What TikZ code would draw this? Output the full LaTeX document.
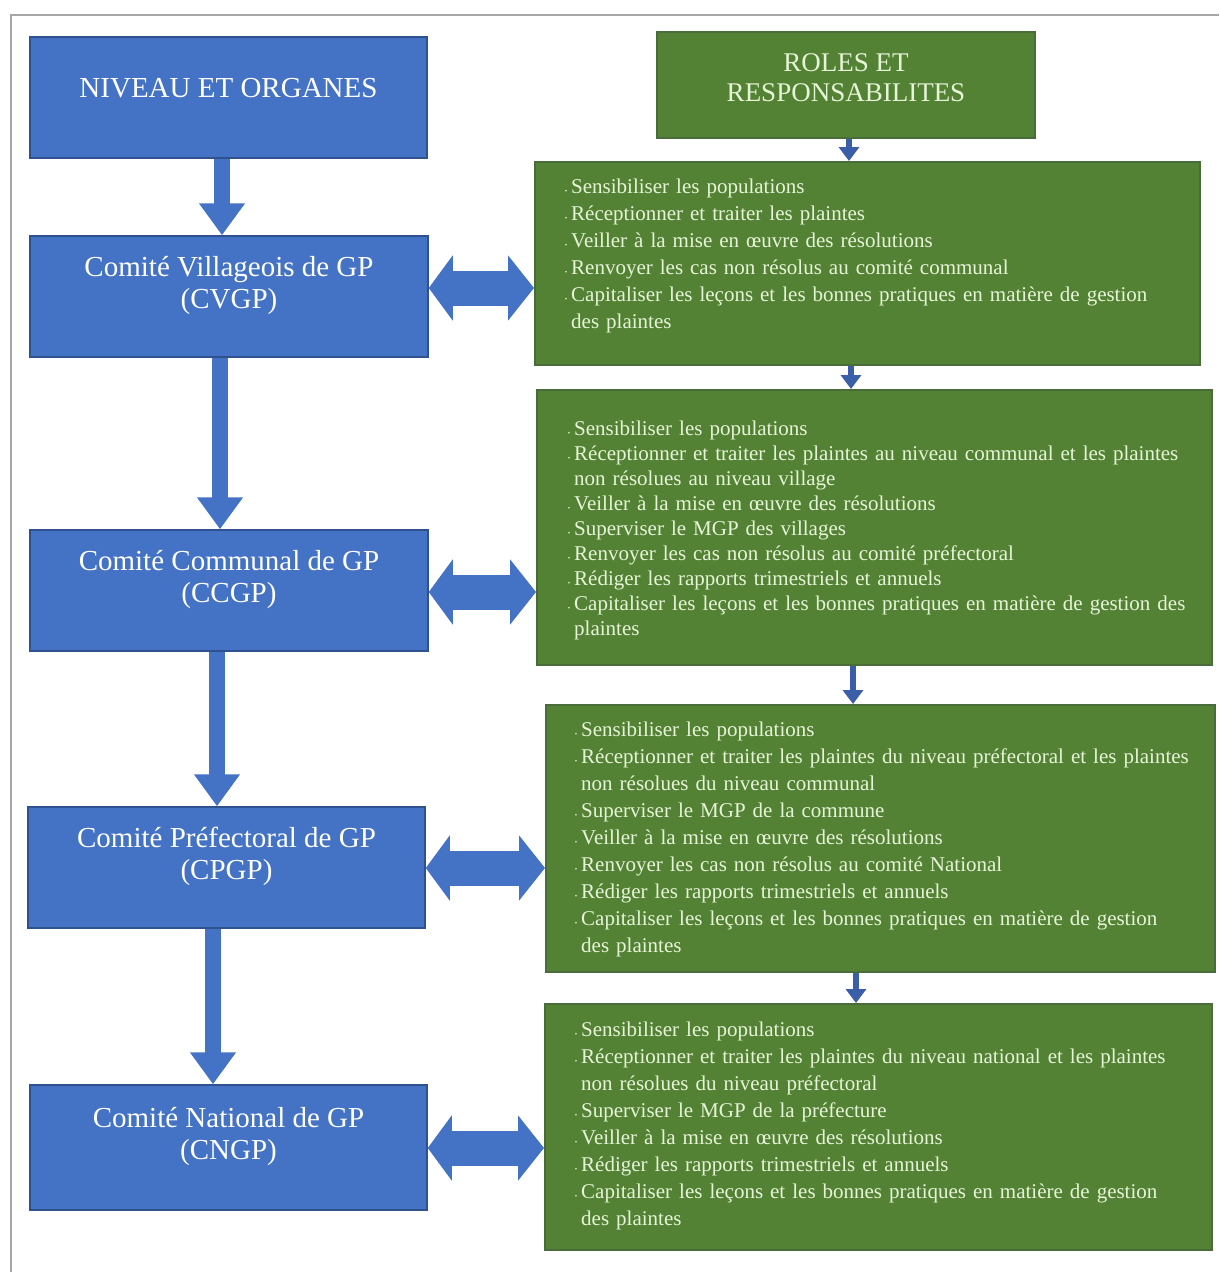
\documentclass[tikz,border=0pt]{standalone}
\usepackage{fontspec}
\setmainfont{Liberation Serif}
\usepackage{enumitem}
\usetikzlibrary{arrows.meta}
\definecolor{bluefill}{HTML}{4472C4}
\definecolor{blueline}{HTML}{2F528F}
\definecolor{greenfill}{HTML}{548235}
\definecolor{greenline}{HTML}{4A6B3A}
\definecolor{greentext}{HTML}{E6F4D8}
\definecolor{darkarrow}{HTML}{3B5EA8}
\begin{document}
\begin{tikzpicture}[x=1pt,y=-1pt,
  bluebox/.style={draw=blueline,line width=1.5pt,fill=bluefill,inner sep=0pt},
  bluetext/.style={text=white,align=center,font=\fontsize{29}{32}\selectfont,yshift=11pt},
  greenbox/.style={draw=greenline,line width=2pt,fill=greenfill,inner sep=0pt},
  greenhdr/.style={draw=greenline,line width=2pt,fill=greenfill,inner sep=0pt},
  hdrtext/.style={text=greentext,align=center,font=\fontsize{27}{30}\selectfont,yshift=7pt},
  roles/.style={anchor=north west,inner sep=0pt,text=greentext,text width=640pt,
    align=left,font=\fontsize{21}{27}\selectfont},
  downarrow/.style={draw=bluefill,line width=16pt,
    -{Triangle[length=32pt,width=44pt]}},
  bothways/.style={draw=bluefill,line width=35pt,
    {Triangle[length=24pt,width=64pt]}-{Triangle[length=26pt,width=64pt]}},
  smallarrow/.style={draw=darkarrow,line width=6pt,
    -{Triangle[length=14pt,width=20pt]}}
]
\useasboundingbox (0,0) rectangle (1219,1275);
\fill[white] (0,0) rectangle (1219,1275);
\draw[gray!70,line width=2pt] (11,1272) -- (11,15) -- (1219,15);

% left column
\node[bluebox,minimum width=397pt,minimum height=121pt,
  label={[bluetext,yshift=-2pt]center:NIVEAU ET ORGANES}] (hdr) at (228.5,97.5) {};
\node[bluebox,minimum width=398pt,minimum height=121pt,
  label={[bluetext]center:{Comité Villageois de GP\\(CVGP)}}] (b1) at (229,296.5) {};
\node[bluebox,minimum width=398pt,minimum height=121pt,
  label={[bluetext]center:{Comité Communal de GP\\(CCGP)}}] (b2) at (229,590.5) {};
\node[bluebox,minimum width=397pt,minimum height=121pt,
  label={[bluetext]center:{Comité Préfectoral de GP\\(CPGP)}}] (b3) at (226.5,867.5) {};
\node[bluebox,minimum width=397pt,minimum height=125pt,
  label={[bluetext]center:{Comité National de GP\\(CNGP)}}] (b4) at (228.5,1147.5) {};

% right column
\node[greenhdr,minimum width=378pt,minimum height=106pt,
  label={[hdrtext]center:{ROLES ET\\RESPONSABILITES}}] (gh) at (846,85) {};
\node[greenbox,minimum width=665pt,minimum height=203pt] (g1) at (867.5,263.5) {};
\node[greenbox,minimum width=675pt,minimum height=275pt] (g2) at (874.5,527.5) {};
\node[greenbox,minimum width=669pt,minimum height=267pt] (g3) at (880.5,838.5) {};
\node[greenbox,minimum width=667pt,minimum height=246pt] (g4) at (878.5,1127) {};

\setlist[itemize]{label={\scriptsize\textbullet},leftmargin=9pt,labelsep=4pt,itemsep=0pt,topsep=0pt,parsep=0pt,partopsep=0pt}

\node[roles] (t1) at (562,166) {\begin{itemize}
\item Sensibiliser les populations
\item Réceptionner et traiter les plaintes
\item Veiller à la mise en œuvre des résolutions
\item Renvoyer les cas non résolus au comité communal
\item Capitaliser les leçons et les bonnes pratiques en matière de gestion\newline des plaintes
\end{itemize}};

\node[roles,font=\fontsize{21}{25}\selectfont] (t2) at (565,410) {\begin{itemize}
\item Sensibiliser les populations
\item Réceptionner et traiter les plaintes au niveau communal et les plaintes\newline non résolues au niveau village
\item Veiller à la mise en œuvre des résolutions
\item Superviser le MGP des villages
\item Renvoyer les cas non résolus au comité préfectoral
\item Rédiger les rapports trimestriels et annuels
\item Capitaliser les leçons et les bonnes pratiques en matière de gestion des\newline plaintes
\end{itemize}};

\node[roles] (t3) at (572,709) {\begin{itemize}
\item Sensibiliser les populations
\item Réceptionner et traiter les plaintes du niveau préfectoral et les plaintes\newline non résolues du niveau communal
\item Superviser le MGP de la commune
\item Veiller à la mise en œuvre des résolutions
\item Renvoyer les cas non résolus au comité National
\item Rédiger les rapports trimestriels et annuels
\item Capitaliser les leçons et les bonnes pratiques en matière de gestion\newline des plaintes
\end{itemize}};

\node[roles] (t4) at (572,1009) {\begin{itemize}
\item Sensibiliser les populations
\item Réceptionner et traiter les plaintes du niveau national et les plaintes\newline non résolues du niveau préfectoral
\item Superviser le MGP de la préfecture
\item Veiller à la mise en œuvre des résolutions
\item Rédiger les rapports trimestriels et annuels
\item Capitaliser les leçons et les bonnes pratiques en matière de gestion\newline des plaintes
\end{itemize}};

% vertical arrows, left column
\draw[downarrow] (hdr.south -| 222,0) -- (b1.north -| 222,0);
\draw[downarrow] (b1.south -| 220,0) -- (b2.north -| 220,0);
\draw[downarrow] (b2.south -| 217,0) -- (b3.north -| 217,0);
\draw[downarrow] (b3.south -| 213,0) -- (b4.north -| 213,0);

% two-way arrows
\draw[bothways] (b1.east |- 0,288) -- (g1.west |- 0,288);
\draw[bothways] (b2.east |- 0,592) -- (g2.west |- 0,592);
\draw[bothways] (b3.east |- 0,868) -- (g3.west |- 0,868);
\draw[bothways] (b4.east |- 0,1148) -- (g4.west |- 0,1148);

% small arrows, right column
\draw[smallarrow] (gh.south -| 849,0) -- (g1.north -| 849,0);
\draw[smallarrow] (g1.south -| 851,0) -- (g2.north -| 851,0);
\draw[smallarrow] (g2.south -| 853,0) -- (g3.north -| 853,0);
\draw[smallarrow] (g3.south -| 856,0) -- (g4.north -| 856,0);
\end{tikzpicture}
\end{document}
